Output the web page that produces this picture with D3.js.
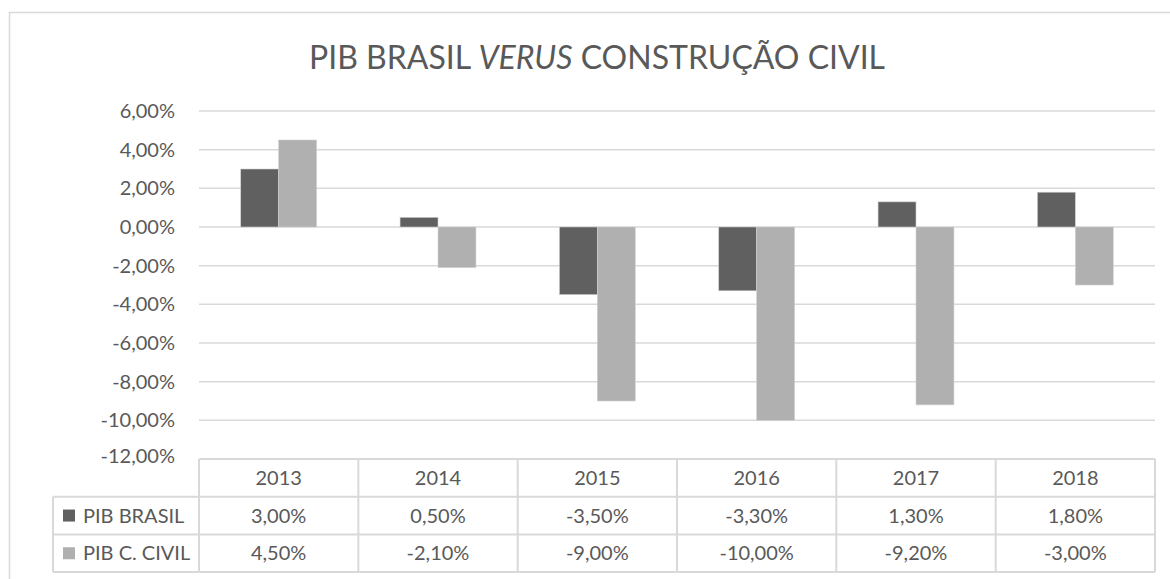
<!DOCTYPE html>
<html>
<head>
<meta charset="utf-8">
<script src="https://cdn.jsdelivr.net/npm/d3@7"></script>
<style>
  body { margin: 0; background: #fff; }
  svg text { font-family: Lato, "Open Sans", sans-serif; fill: #595959; }
</style>
</head>
<body>
<div id="chart"></div>
<script>
// dados do gráfico
var anos = ["2013", "2014", "2015", "2016", "2017", "2018"];
var series = ["PIB BRASIL", "PIB C. CIVIL"];
var pibBrasil = [3.0, 0.5, -3.5, -3.3, 1.3, 1.8];
var pibCivil = [4.5, -2.1, -9.0, -10.0, -9.2, -3.0];
var yTicks = [6, 4, 2, 0, -2, -4, -6, -8, -10, -12];

var cores = ["#606060", "#b0b0b0"];
var valores = [pibBrasil, pibCivil];

var W = 1170, H = 579;
var plot = { left: 199, right: 1155, top: 111, bottom: 459 };
var rowH = 37.7;
var fonte = "20px";

var fmt = function(v) { return v.toFixed(2).replace(".", ",") + "%"; };

var svg = d3.select("#chart").append("svg")
  .attr("width", W)
  .attr("height", H);

// moldura do gráfico
svg.append("rect")
  .attr("x", 9.5).attr("y", 12.5)
  .attr("width", 1180).attr("height", 580)
  .attr("fill", "none")
  .attr("stroke", "#d9d9d9")
  .attr("stroke-width", 1.5);

// título
var titulo = svg.append("text")
  .attr("x", 597).attr("y", 69)
  .attr("text-anchor", "middle")
  .style("font-size", "32px");
titulo.append("tspan").text("PIB BRASIL ");
titulo.append("tspan").style("font-style", "italic").text("VERUS");
titulo.append("tspan").text(" CONSTRUÇÃO CIVIL");

var y = d3.scaleLinear()
  .domain([6, -12])
  .range([plot.top, plot.bottom]);

var x0 = d3.scaleBand()
  .domain(anos)
  .range([plot.left, plot.right]);

var x1 = d3.scaleBand()
  .domain(series)
  .range([0, x0.bandwidth()])
  .paddingOuter(1.1);

// linhas de grade
svg.append("g").selectAll("line")
  .data(yTicks.filter(function(d) { return d > -12; }))
  .enter().append("line")
  .attr("x1", plot.left).attr("x2", plot.right)
  .attr("y1", function(d) { return y(d); })
  .attr("y2", function(d) { return y(d); })
  .attr("stroke", "#d9d9d9")
  .attr("stroke-width", 1.5);

// rótulos do eixo Y
svg.append("g").selectAll("text")
  .data(yTicks)
  .enter().append("text")
  .attr("x", 175)
  .attr("y", function(d) { return d === -12 ? y(d) - 3 : y(d); })
  .attr("dy", "0.35em")
  .attr("text-anchor", "end")
  .style("font-size", fonte)
  .text(function(d) { return fmt(d); });

// barras
series.forEach(function(s, si) {
  svg.append("g").selectAll("rect")
    .data(valores[si])
    .enter().append("rect")
    .attr("x", function(d, i) { return x0(anos[i]) + x1(s); })
    .attr("width", x1.bandwidth())
    .attr("y", function(d) { return y(Math.max(0, d)); })
    .attr("height", function(d) { return Math.abs(y(d) - y(0)); })
    .attr("fill", cores[si])
    .attr("stroke", "#d0d0d0")
    .attr("stroke-width", 0.6);
});

// tabela de dados
var tab = svg.append("g");
var linha = { stroke: "#d9d9d9", w: 2 };
var tabLeft = 53;
var tTop = plot.bottom;
var tBottom = tTop + rowH * 3;

// horizontais
[tTop, tTop + rowH, tTop + rowH * 2, tBottom].forEach(function(yy, i) {
  tab.append("line")
    .attr("x1", i === 0 ? plot.left : tabLeft).attr("x2", plot.right)
    .attr("y1", yy).attr("y2", yy)
    .attr("stroke", linha.stroke).attr("stroke-width", linha.w);
});
// verticais
tab.append("line")
  .attr("x1", tabLeft).attr("x2", tabLeft)
  .attr("y1", tTop + rowH).attr("y2", tBottom)
  .attr("stroke", linha.stroke).attr("stroke-width", linha.w);
anos.forEach(function(a) {
  tab.append("line")
    .attr("x1", x0(a)).attr("x2", x0(a))
    .attr("y1", tTop).attr("y2", tBottom)
    .attr("stroke", linha.stroke).attr("stroke-width", linha.w);
});
tab.append("line")
  .attr("x1", plot.right).attr("x2", plot.right)
  .attr("y1", tTop).attr("y2", tBottom)
  .attr("stroke", linha.stroke).attr("stroke-width", linha.w);

// cabeçalho de anos
tab.selectAll(".ano")
  .data(anos)
  .enter().append("text")
  .attr("class", "ano")
  .attr("x", function(d) { return x0(d) + x0.bandwidth() / 2; })
  .attr("y", tTop + rowH / 2)
  .attr("dy", "0.35em")
  .attr("text-anchor", "middle")
  .style("font-size", fonte)
  .text(function(d) { return d; });

series.forEach(function(s, si) {
  var yy = tTop + rowH * (si + 1) + rowH / 2;
  tab.append("rect")
    .attr("x", 63).attr("y", yy - 6)
    .attr("width", 12).attr("height", 12)
    .attr("fill", cores[si]);
  tab.append("text")
    .attr("x", 83).attr("y", yy)
    .attr("dy", "0.35em")
    .style("font-size", fonte)
    .text(s);
  tab.selectAll(".v" + si)
    .data(valores[si])
    .enter().append("text")
    .attr("x", function(d, i) { return x0(anos[i]) + x0.bandwidth() / 2; })
    .attr("y", yy)
    .attr("dy", "0.35em")
    .attr("text-anchor", "middle")
    .style("font-size", fonte)
    .text(function(d) { return fmt(d); });
});
</script>
</body>
</html>
